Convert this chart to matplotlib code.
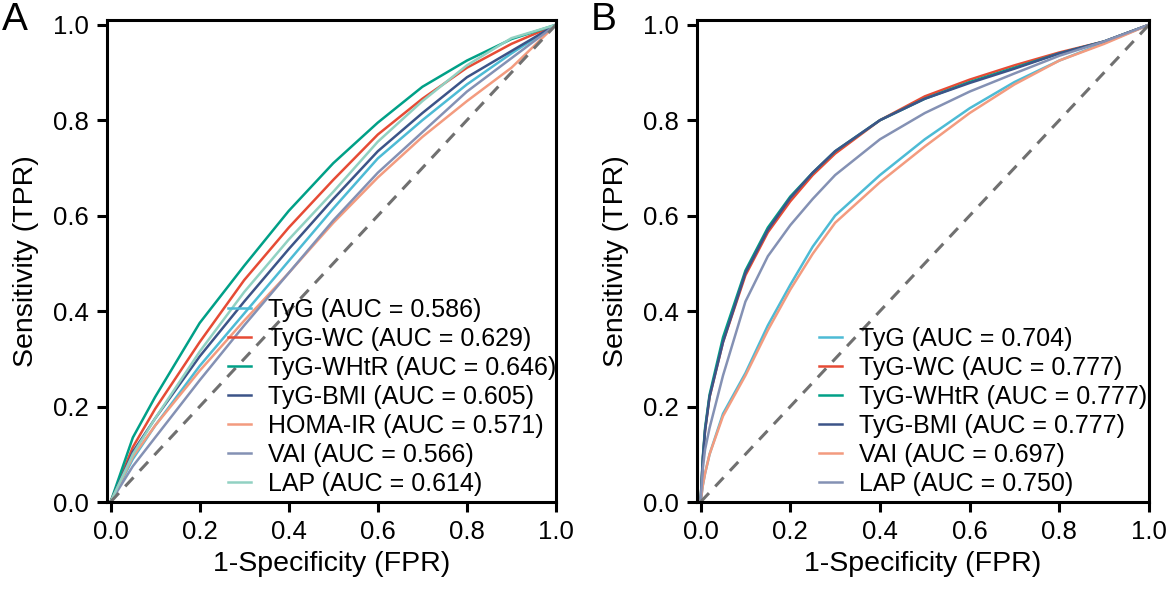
import numpy as np
import matplotlib
matplotlib.use("Agg")
import matplotlib.pyplot as plt

plt.rcParams['font.family'] = ['Liberation Sans', 'DejaVu Sans']

# ---- panel A data ----
fpr_a = [0, 0.05, 0.1, 0.2, 0.3, 0.4, 0.5, 0.6, 0.7, 0.8, 0.9, 1.0]
tyg_a = [0, 0.09, 0.16, 0.285, 0.395, 0.505, 0.615, 0.72, 0.80, 0.875, 0.94, 1.0]
tygwc_a = [0, 0.115, 0.195, 0.335, 0.465, 0.575, 0.675, 0.77, 0.845, 0.91, 0.96, 1.0]
tygwhtr_a = [0, 0.135, 0.22, 0.375, 0.495, 0.61, 0.71, 0.795, 0.87, 0.925, 0.97, 1.0]
tygbmi_a = [0, 0.105, 0.175, 0.305, 0.42, 0.53, 0.635, 0.735, 0.815, 0.89, 0.945, 1.0]
homa_a = [0, 0.095, 0.16, 0.275, 0.38, 0.48, 0.585, 0.68, 0.765, 0.84, 0.91, 1.0]
vai_a = [0, 0.075, 0.135, 0.255, 0.37, 0.48, 0.59, 0.69, 0.775, 0.86, 0.93, 1.0]
lap_a = [0, 0.10, 0.175, 0.315, 0.44, 0.55, 0.65, 0.755, 0.84, 0.915, 0.972, 1.0]
labels_a = ["TyG (AUC = 0.586)", "TyG-WC (AUC = 0.629)", "TyG-WHtR (AUC = 0.646)",
            "TyG-BMI (AUC = 0.605)", "HOMA-IR (AUC = 0.571)", "VAI (AUC = 0.566)",
            "LAP (AUC = 0.614)"]
colors_a = ["#4DBBD5", "#E64B35", "#00A087", "#3C5488", "#F39B7F", "#8491B4", "#91D1C2"]

# ---- panel B data ----
fpr_b = [0, 0.005, 0.01, 0.02, 0.05, 0.1, 0.15, 0.2, 0.25, 0.3, 0.4, 0.5, 0.6, 0.7, 0.8, 0.9, 1.0]
tyg_b = [0, 0.035, 0.06, 0.10, 0.185, 0.27, 0.37, 0.455, 0.535, 0.60, 0.685, 0.76, 0.825, 0.88, 0.925, 0.962, 1.0]
tygwc_b = [0, 0.09, 0.15, 0.22, 0.335, 0.475, 0.565, 0.63, 0.685, 0.73, 0.80, 0.85, 0.885, 0.915, 0.942, 0.965, 1.0]
tygwhtr_b = [0, 0.095, 0.155, 0.225, 0.345, 0.485, 0.575, 0.64, 0.69, 0.735, 0.80, 0.845, 0.88, 0.91, 0.94, 0.965, 1.0]
tygbmi_b = [0, 0.09, 0.15, 0.22, 0.335, 0.48, 0.57, 0.637, 0.69, 0.735, 0.80, 0.845, 0.878, 0.908, 0.94, 0.965, 1.0]
vai_b = [0, 0.035, 0.06, 0.10, 0.18, 0.265, 0.36, 0.445, 0.52, 0.585, 0.67, 0.745, 0.815, 0.875, 0.925, 0.96, 1.0]
lap_b = [0, 0.07, 0.11, 0.155, 0.265, 0.42, 0.515, 0.58, 0.635, 0.685, 0.76, 0.815, 0.86, 0.898, 0.935, 0.965, 1.0]
labels_b = ["TyG (AUC = 0.704)", "TyG-WC (AUC = 0.777)", "TyG-WHtR (AUC = 0.777)",
            "TyG-BMI (AUC = 0.777)", "VAI (AUC = 0.697)", "LAP (AUC = 0.750)"]
colors_b = ["#4DBBD5", "#E64B35", "#00A087", "#3C5488", "#F39B7F", "#8491B4"]

curves_a = [tyg_a, tygwc_a, tygwhtr_a, tygbmi_a, homa_a, vai_a, lap_a]
curves_b = [tyg_b, tygwc_b, tygwhtr_b, tygbmi_b, vai_b, lap_b]


def draw_panel(ax, fpr, curves, labels, colors, tag):
    for tpr, lab, col in zip(curves, labels, colors):
        ax.plot(fpr, tpr, color=col, lw=1.8, label=lab)
    ax.plot([0, 1], [0, 1], ls=(0, (4, 3)), color="#707070", lw=2.2)
    ax.set_xlim(-0.008, 1.0)
    ax.set_ylim(0, 1.01)
    ax.set_xticks([0, 0.2, 0.4, 0.6, 0.8, 1.0])
    ax.set_yticks([0, 0.2, 0.4, 0.6, 0.8, 1.0])
    ax.xaxis.set_major_formatter(plt.FormatStrFormatter('%.1f'))
    ax.yaxis.set_major_formatter(plt.FormatStrFormatter('%.1f'))
    for s in ax.spines.values():
        s.set_linewidth(2.2)
    ax.tick_params(width=2.2, length=7, labelsize=18.5, pad=6)
    ax.set_xlabel("1-Specificity (FPR)", fontsize=20.5, labelpad=5)
    ax.set_ylabel("Sensitivity (TPR)", fontsize=20.5, labelpad=10)
    ax.legend(loc="lower left", bbox_to_anchor=(0.27, 0.012), frameon=False,
              fontsize=18, handlelength=0.9, handletextpad=0.68,
              labelspacing=0.2, borderpad=0, borderaxespad=0)
    ax.text(-0.235, 1.0, tag, transform=ax.transAxes, fontsize=28,
            va="center", ha="left")


fig = plt.figure(figsize=(11.69, 5.89), dpi=100)
ax1 = fig.add_axes([107 / 1169, 87 / 589, 449 / 1169, 482 / 589])
ax2 = fig.add_axes([697 / 1169, 87 / 589, 452 / 1169, 482 / 589])

draw_panel(ax1, fpr_a, curves_a, labels_a, colors_a, "A")
draw_panel(ax2, fpr_b, curves_b, labels_b, colors_b, "B")

fig.savefig("out.png", dpi=100)
